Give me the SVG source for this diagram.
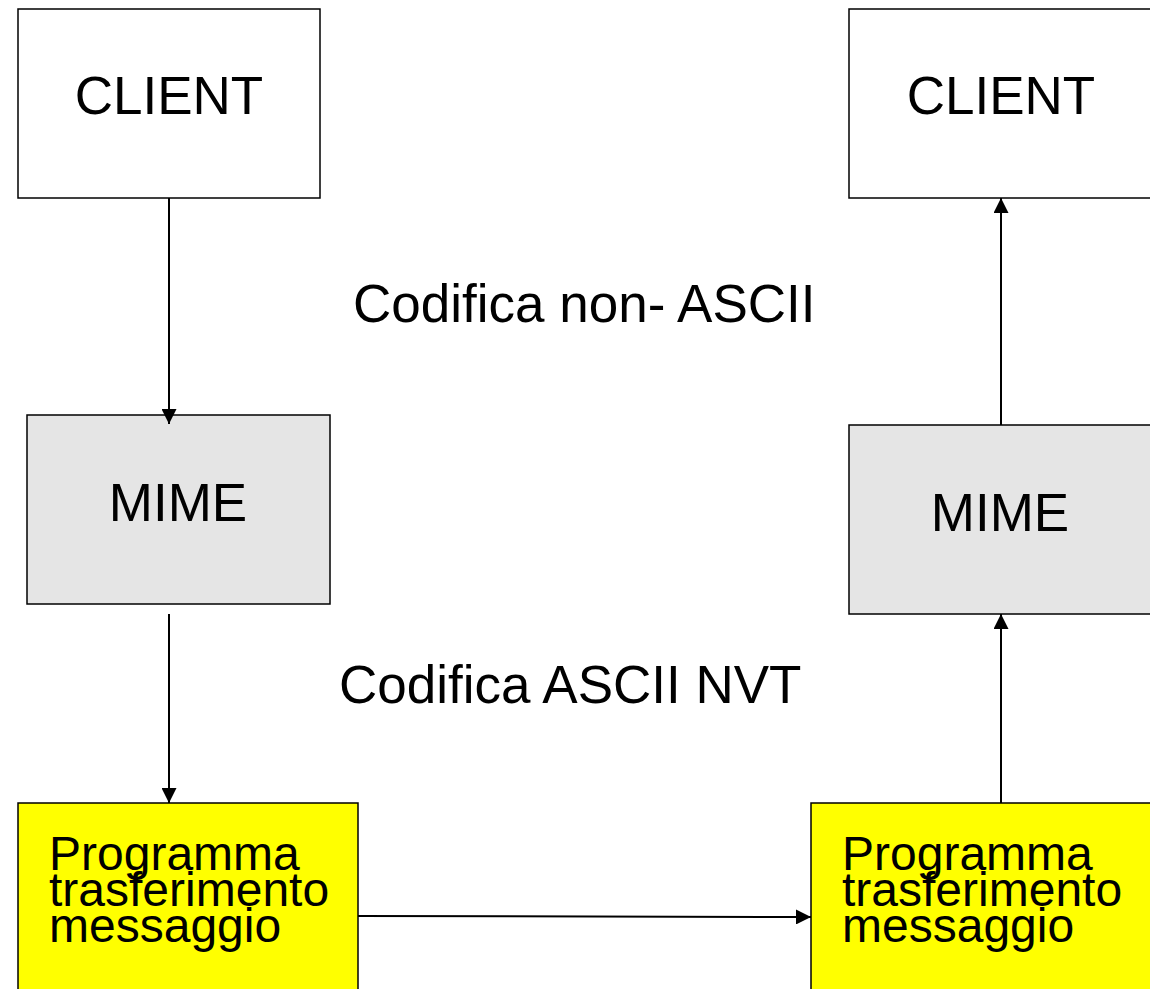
<svg xmlns="http://www.w3.org/2000/svg" width="1150" height="989" viewBox="0 0 1150 989">
  <defs>
    <marker id="arrow" markerUnits="userSpaceOnUse" markerWidth="16" markerHeight="15" refX="15" refY="7.5" orient="auto">
      <path d="M0,0 L15,7.5 L0,15 Z" fill="#000"/>
    </marker>
  </defs>
  <style>
    .box { stroke: #000; stroke-width: 1.5; }
    .client { fill: #ffffff; }
    .mime { fill: #e5e5e5; }
    .prog { fill: #ffff00; }
    .label { font-family: "Liberation Sans", Arial, sans-serif; font-size: 53px; fill: #000; }
    .plabel { font-family: "Liberation Sans", Arial, sans-serif; font-size: 48px; fill: #000; }
    .conn { stroke: #000; stroke-width: 2; fill: none; marker-end: url(#arrow); }
  </style>
  <rect width="1150" height="989" fill="#fff"/>

  <g id="client-left">
    <rect class="box client" x="18" y="9" width="302" height="189"/>
    <text class="label" x="169" y="114" text-anchor="middle">CLIENT</text>
  </g>
  <g id="client-right">
    <rect class="box client" x="849" y="9" width="320" height="189"/>
    <text class="label" x="1001" y="114" text-anchor="middle">CLIENT</text>
  </g>

  <g id="mime-left">
    <rect class="box mime" x="27" y="415" width="303" height="189"/>
    <text class="label" x="178" y="521" text-anchor="middle">MIME</text>
  </g>
  <g id="mime-right">
    <rect class="box mime" x="849" y="425" width="320" height="189"/>
    <text class="label" x="1000" y="531" text-anchor="middle">MIME</text>
  </g>

  <g id="prog-left">
    <rect class="box prog" x="18" y="803" width="340" height="200"/>
    <text class="plabel" x="49" y="870">Programma</text>
    <text class="plabel" x="49" y="906">trasferimento</text>
    <text class="plabel" x="49" y="942">messaggio</text>
  </g>
  <g id="prog-right">
    <rect class="box prog" x="811" y="803" width="360" height="200"/>
    <text class="plabel" x="842" y="870">Programma</text>
    <text class="plabel" x="842" y="906">trasferimento</text>
    <text class="plabel" x="842" y="942">messaggio</text>
  </g>

  <g id="labels">
    <text class="label" x="353" y="322">Codifica non- ASCII</text>
    <text class="label" x="339" y="703">Codifica ASCII NVT</text>
  </g>

  <g id="connectors">
    <line class="conn" x1="169" y1="198" x2="169" y2="424"/>
    <line class="conn" x1="169" y1="614" x2="169" y2="803"/>
    <line class="conn" x1="358" y1="916" x2="811" y2="917"/>
    <line class="conn" x1="1001" y1="803" x2="1001" y2="614"/>
    <line class="conn" x1="1001" y1="425" x2="1001" y2="198"/>
  </g>
</svg>
